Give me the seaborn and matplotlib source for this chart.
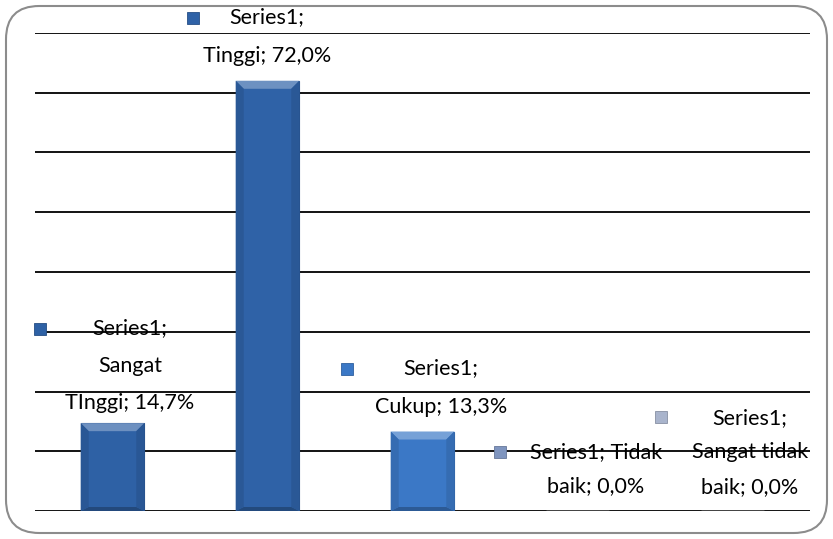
import matplotlib
matplotlib.use("Agg")
import matplotlib.pyplot as plt
from matplotlib.patches import FancyBboxPatch, Polygon
import matplotlib.colors as mcolors
import numpy as np
import pandas as pd
import seaborn as sns

# data
categories = ["Sangat Tinggi", "Tinggi", "Cukup", "Tidak baik", "Sangat tidak baik"]
values = [14.7, 72.0, 13.3, 0.0, 0.0]
label_texts = ["Series1;\nSangat\nTInggi; 14,7%",
               "Series1;\nTinggi; 72,0%",
               "Series1;\nCukup; 13,3%",
               "Series1; Tidak\nbaik; 0,0%",
               "Series1;\nSangat tidak\nbaik; 0,0%"]

bar_colours = ["#2E61A5", "#2F62A7", "#3B78C6", "#7F95BF", "#A9B4CC"]

# label layout (data units): text centre, legend key position, line spacing
text_pos = [(0.113, 24.3), (0.997, 79.4), (2.119, 20.7), (3.119, 7.0), (4.113, 9.8)]
key_pos = [(-0.468, 30.5), (0.519, 82.5), (1.513, 23.8), (2.50, 9.9), (3.539, 15.7)]
spacing = [2.1, 2.2, 2.2, 1.9, 1.9]

df = pd.DataFrame({"cat": categories, "val": values})

sns.set_style("white")
plt.rcParams["font.family"] = ["Lato", "DejaVu Sans"]

fig = plt.figure(figsize=(8.33, 5.39), dpi=100)
ax = fig.add_axes([35 / 833, 1 - 511 / 539, 775 / 833, 478 / 539])

sns.barplot(data=df, x="cat", y="val", hue="cat", palette=bar_colours,
            width=0.41, legend=False, ax=ax, saturation=1, zorder=3)

ax.set_ylim(0, 80)
ax.set_xlim(-0.5, 4.5)
ax.set_yticks(np.arange(0, 81, 10))
ax.yaxis.grid(True, color="black", linewidth=1.3, zorder=0)
ax.set_axisbelow(True)
for s in ax.spines.values():
    s.set_visible(False)
ax.set_xticks([])
ax.set_yticklabels([])
ax.tick_params(left=False, bottom=False)
ax.set_xlabel("")
ax.set_ylabel("")

# bevel effect on the bars
fig.canvas.draw()
inv = ax.transData.inverted()
for p, c in zip(ax.patches, bar_colours):
    if p.get_height() <= 0:
        continue
    p.set_edgecolor(mcolors.to_hex(np.array(mcolors.to_rgb(c)) * 0.85))
    p.set_linewidth(0.8)
    (x0, y0), (x1, y1) = ax.transData.transform(
        [(p.get_x(), 0), (p.get_x() + p.get_width(), p.get_height())])
    b = 8
    base = np.array(mcolors.to_rgb(c))
    light = base + (1 - base) * 0.3
    dark = base * 0.75
    side = base * 0.9
    shapes = [
        ([(x0, y1), (x1, y1), (x1 - b, y1 - b), (x0 + b, y1 - b)], light),
        ([(x0, y0), (x1, y0), (x1 - b, y0 + 4), (x0 + b, y0 + 4)], dark),
        ([(x0, y0), (x0, y1), (x0 + b, y1 - b), (x0 + b, y0 + 4)], side),
        ([(x1, y0), (x1, y1), (x1 - b, y1 - b), (x1 - b, y0 + 4)], side),
    ]
    for pts, col in shapes:
        ax.add_patch(Polygon(inv.transform(pts), closed=True, facecolor=col,
                             edgecolor="none", zorder=4))

# data labels with legend keys
for txt, (tx, ty), (kx, ky), ls, c in zip(label_texts, text_pos, key_pos, spacing, bar_colours):
    ax.text(tx, ty, txt, ha="center", va="center", fontsize=15.5,
            linespacing=ls, color="black", zorder=6, clip_on=False)
    ax.plot([kx], [ky], marker="s", markersize=8.5, color=c,
            markeredgecolor=mcolors.to_hex(np.array(mcolors.to_rgb(c)) * 0.8),
            markeredgewidth=0.6, clip_on=False, zorder=6)

# rounded chart border
border = FancyBboxPatch((6 / 833, 6 / 539), 821 / 833, 527 / 539,
                        boxstyle="round,pad=0,rounding_size=0.04",
                        transform=fig.transFigure, facecolor="none",
                        edgecolor="#8c8c8c", linewidth=1.5,
                        mutation_aspect=833 / 539)
fig.patches.append(border)

fig.savefig("out.png", dpi=100)
